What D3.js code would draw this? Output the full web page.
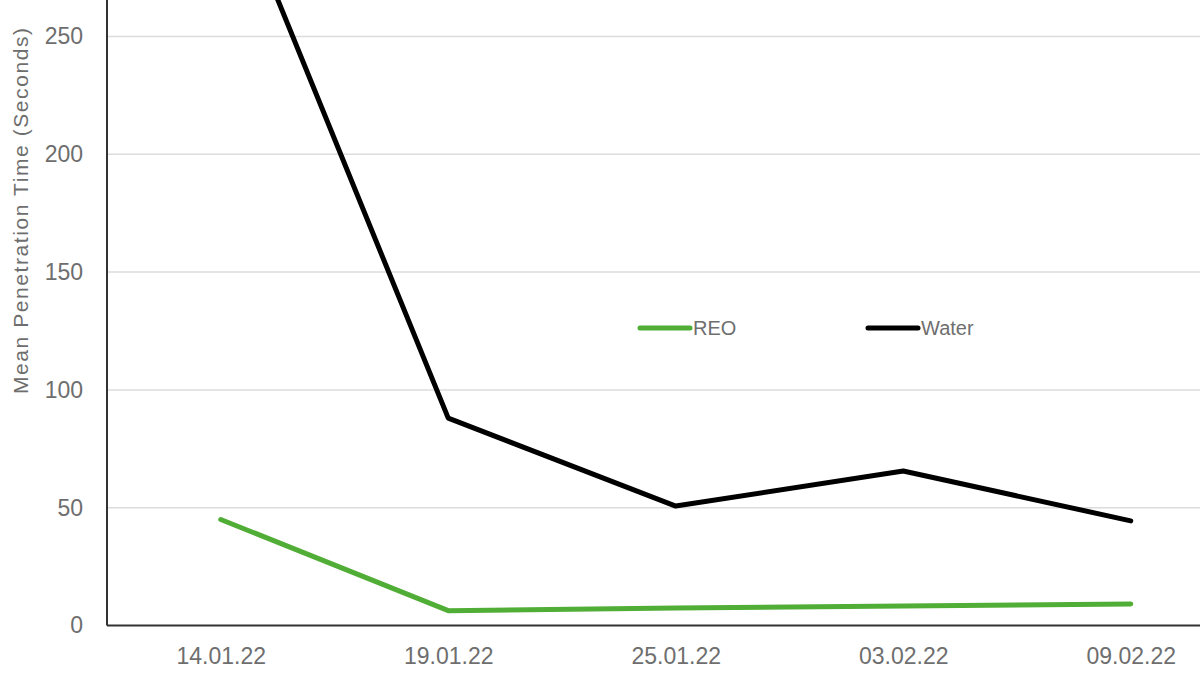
<!DOCTYPE html>
<html>
<head>
<meta charset="utf-8">
<script src="https://cdn.jsdelivr.net/npm/d3@7"></script>
<style>
  html, body { margin: 0; padding: 0; background: #fff; }
  svg { display: block; font-family: "Liberation Sans", Arial, sans-serif; }
</style>
</head>
<body>
<div id="chart"></div>
<script>
const dates = ["14.01.22", "19.01.22", "25.01.22", "03.02.22", "09.02.22"];
const reoValues = [45, 6.3, 7.4, 8.3, 9.1];
const waterValues = [325, 88, 50.7, 65.6, 44.4];
const yTicks = [0, 50, 100, 150, 200, 250];
const seriesNames = ["REO", "Water"];

const width = 1200;
const height = 675;
const left = 107;
const bottom = 625.5;
const step = 227.5;

const svg = d3.select("#chart")
  .append("svg")
  .attr("width", width)
  .attr("height", height);

const x = d3.scalePoint()
  .domain(dates)
  .range([left + step / 2, left + step * (dates.length - 0.5)]);

// plot is cropped at the top, 250 sits near y=36
const y = d3.scaleLinear()
  .domain([0, 250])
  .range([bottom, bottom - 589]);

// gridlines
svg.append("g")
  .selectAll("line")
  .data(yTicks.filter((d) => d > 0))
  .join("line")
  .attr("x1", left)
  .attr("x2", width)
  .attr("y1", (d) => y(d))
  .attr("y2", (d) => y(d))
  .attr("stroke", "#dcdcdc")
  .attr("stroke-width", 1.5);

// y tick labels
const yAxis = svg.append("g")
  .attr("transform", `translate(${left},0)`)
  .call(d3.axisLeft(y).tickValues(yTicks).tickSize(0).tickPadding(24));
yAxis.select(".domain").remove();
yAxis.selectAll("text")
  .attr("fill", "#6e6e6e")
  .style("font-size", "23px");

// x tick labels
const xAxis = svg.append("g")
  .attr("transform", `translate(0,${bottom})`)
  .call(d3.axisBottom(x).tickSize(0).tickPadding(22));
xAxis.select(".domain").remove();
xAxis.selectAll("text")
  .attr("fill", "#6e6e6e")
  .style("font-size", "23px");

// axis lines
svg.append("line")
  .attr("x1", left).attr("x2", left)
  .attr("y1", 0).attr("y2", bottom)
  .attr("stroke", "#333")
  .attr("stroke-width", 2);
svg.append("line")
  .attr("x1", left).attr("x2", width)
  .attr("y1", bottom).attr("y2", bottom)
  .attr("stroke", "#333")
  .attr("stroke-width", 2);

// y title
svg.append("text")
  .attr("transform", `translate(28,211)rotate(-90)`)
  .attr("text-anchor", "middle")
  .attr("fill", "#6e6e6e")
  .style("font-size", "21px")
  .attr("textLength", 366)
  .attr("lengthAdjust", "spacing")
  .text("Mean Penetration Time (Seconds)");

const line = d3.line()
  .x((d, i) => x(dates[i]))
  .y((d) => y(d));

const colors = { REO: "#50ad35", Water: "#000" };
const series = [
  { name: "REO", values: reoValues },
  { name: "Water", values: waterValues },
];

svg.append("g")
  .selectAll("path")
  .data(series)
  .join("path")
  .attr("d", (d) => line(d.values))
  .attr("fill", "none")
  .attr("stroke", (d) => colors[d.name])
  .attr("stroke-width", 5)
  .attr("stroke-linejoin", "round")
  .attr("stroke-linecap", "round");

// legend
const legend = svg.append("g")
  .selectAll("g")
  .data(seriesNames)
  .join("g")
  .attr("transform", (d, i) => `translate(${640 + i * 228},328)`);

legend.append("line")
  .attr("x1", 0).attr("x2", 50)
  .attr("stroke", (d) => colors[d])
  .attr("stroke-width", 5)
  .attr("stroke-linecap", "round");

legend.append("text")
  .attr("x", 53)
  .attr("dy", "0.35em")
  .attr("fill", "#6e6e6e")
  .style("font-size", "20px")
  .text((d) => d);
</script>
</body>
</html>
